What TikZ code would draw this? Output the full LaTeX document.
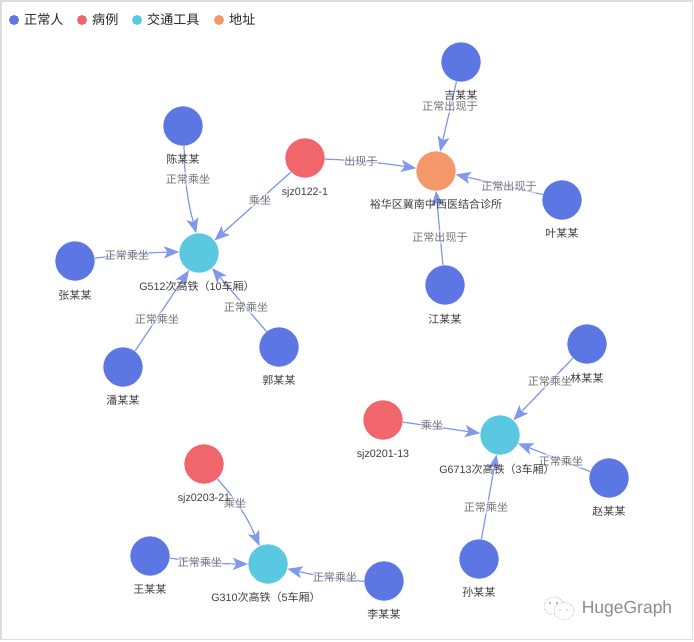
\documentclass[tikz,border=0pt]{standalone}
\usepackage{fontspec}
\setmainfont{Liberation Sans}
\newfontfamily\cjk[Scale=1.03]{Noto Sans CJK SC}
\usetikzlibrary{arrows.meta}
\definecolor{nblue}{HTML}{5C77E4}
\definecolor{nred}{HTML}{F0666B}
\definecolor{nteal}{HTML}{5BC8E2}
\definecolor{norange}{HTML}{F4986C}
\definecolor{edgec}{HTML}{8197F0}
\definecolor{framec}{HTML}{DDDDDD}
\tikzset{
  vert/.style={circle,minimum size=40pt,inner sep=0pt,outer sep=0pt,draw=white,line width=.5pt},
  person/.style={vert,fill=nblue},
  patient/.style={vert,fill=nred},
  vehicle/.style={vert,fill=nteal},
  addr/.style={vert,fill=norange},
  rel/.style={draw=edgec,line width=1.2pt,-{Stealth[length=15pt,width=12pt,inset=3.5pt]}},
  vname/.style={font=\fontsize{10.7}{12}\selectfont,text=black!75,inner sep=0pt,text height=11pt,text depth=2.5pt},
  rellabel/.style={font=\fontsize{10.7}{12}\selectfont\cjk,text=black!55,inner sep=0pt,fill=white,fill opacity=.5,text opacity=1,text height=11pt,text depth=2.5pt},
  legdot/.style={circle,minimum size=10pt,inner sep=0pt,outer sep=0pt},
  legtext/.style={font=\fontsize{12.7}{15}\selectfont\cjk,text=black!85,inner sep=0pt,anchor=west,text height=11pt,text depth=3pt}
}
\begin{document}
\begin{tikzpicture}[x=1pt,y=-1pt]
\useasboundingbox (0,0) rectangle (694,641);
\fill[white] (0,0) rectangle (694,641);
\draw[framec,line width=1.6pt] (1,1) rectangle (692.6,639.5);
% legend
\node[legdot,fill=nblue] (l1) at (14,20) {};
\node[legtext] (lt1) at (24,20) {正常人};
\node[legdot,fill=nred] (l2) at (82,20) {};
\node[legtext] (lt2) at (92,20) {病例};
\node[legdot,fill=nteal] (l3) at (137,20) {};
\node[legtext] (lt3) at (147,20) {交通工具};
\node[legdot,fill=norange] (l4) at (219,20) {};
\node[legtext] (lt4) at (229,20) {地址};
% vertices
\node[person] (chen) at (183,126) {};
\node[patient] (s1) at (305,158) {};
\node[person] (zhang) at (75,261) {};
\node[vehicle] (g512) at (199,253) {};
\node[person] (pan) at (123,367) {};
\node[person] (guo) at (279,347) {};
\node[person] (ji) at (461,62) {};
\node[addr] (clinic) at (436,171) {};
\node[person] (ye) at (562,200) {};
\node[person] (jiang) at (445,285) {};
\node[person] (lin) at (587,344) {};
\node[patient] (s2) at (383,420) {};
\node[vehicle] (g6713) at (500,435) {};
\node[person] (zhao) at (609,478) {};
\node[person] (sun) at (479,559) {};
\node[person] (li) at (384,581) {};
\node[patient] (s3) at (204,464) {};
\node[vehicle] (g310) at (268,564) {};
\node[person] (wang) at (150,556) {};
% connectors
\draw[rel] (chen.273) to[bend right=7] (g512.98);
\draw[rel] (s1.225) to (g512.39);
\draw[rel] (zhang.8) to[bend left=3] (g512.177);
\draw[rel] (pan.53) to (g512.240);
\draw[rel] (guo.129) to (g512.311);
\draw[rel] (s1.357) to[bend left=3] (clinic.172);
\draw[rel] (ji.257) to (clinic.78);
\draw[rel] (ye.164) to (clinic.350);
\draw[rel] (jiang.96) to (clinic.270);
\draw[rel] (lin.225) to (g6713.48);
\draw[rel] (s2.354) to (g6713.175);
\draw[rel] (zhao.161) to (g6713.335);
\draw[rel] (sun.83) to (g6713.260);
\draw[rel] (s3.312) to[bend left=9] (g310.115);
\draw[rel] (wang.354) to[bend right=4] (g310.180);
\draw[rel] (li.181) to[bend left=4] (g310.346);
% edge labels
\node[rellabel] (e1) at (188,179) {正常乘坐};
\node[rellabel] (e2) at (260,200) {乘坐};
\node[rellabel] (e3) at (127,255) {正常乘坐};
\node[rellabel] (e4) at (157,319) {正常乘坐};
\node[rellabel] (e5) at (246,307) {正常乘坐};
\node[rellabel] (e6) at (361,161) {出现于};
\node[rellabel] (e7) at (450,106) {正常出现于};
\node[rellabel] (e8) at (509,186) {正常出现于};
\node[rellabel] (e9) at (440,237) {正常出现于};
\node[rellabel] (e10) at (550,381) {正常乘坐};
\node[rellabel] (e11) at (432,425) {乘坐};
\node[rellabel] (e12) at (561,461) {正常乘坐};
\node[rellabel] (e13) at (486,507) {正常乘坐};
\node[rellabel] (e14) at (235,503) {乘坐};
\node[rellabel] (e15) at (200,562) {正常乘坐};
\node[rellabel] (e16) at (335,577) {正常乘坐};
% vertex names
\node[vname] (n1) at (183,159) {\cjk 陈某某};
\node[vname] (n2) at (305,191) {sjz0122-1};
\node[vname] (n3) at (75,295) {\cjk 张某某};
\node[vname] (n4) at (197,286) {G512{\cjk 次高铁（}10{\cjk 车厢）}};
\node[vname] (n5) at (123,400) {\cjk 潘某某};
\node[vname] (n6) at (279,380) {\cjk 郭某某};
\node[vname] (n7) at (461,95) {\cjk 吉某某};
\node[vname] (n8) at (436,204) {\cjk 裕华区冀南中西医结合诊所};
\node[vname] (n9) at (562,233) {\cjk 叶某某};
\node[vname] (n10) at (445,319) {\cjk 江某某};
\node[vname] (n11) at (587,378) {\cjk 林某某};
\node[vname] (n12) at (383,453) {sjz0201-13};
\node[vname] (n13) at (497,469) {G6713{\cjk 次高铁（}3{\cjk 车厢）}};
\node[vname] (n14) at (609,511) {\cjk 赵某某};
\node[vname] (n15) at (479,592) {\cjk 孙某某};
\node[vname] (n16) at (384,614) {\cjk 李某某};
\node[vname] (n17) at (204,497) {sjz0203-21};
\node[vname] (n18) at (266,597) {G310{\cjk 次高铁（}5{\cjk 车厢）}};
\node[vname] (n19) at (150,589) {\cjk 王某某};
% watermark
\begin{scope}[line width=.5pt]
\draw[black!40,densely dotted,fill=white] (554,606) ellipse (10pt and 9pt);
\draw[black!40,densely dotted,fill=white] (564,611) ellipse (10pt and 8.5pt);
\fill[black!55] (550,603) circle (.8pt) (557,603) circle (.8pt) (560,610) circle (.7pt) (567,610) circle (.7pt);
\end{scope}
\node[font=\fontsize{17.5}{19}\selectfont,text=black!45,inner sep=0pt] (wm) at (627,609) {HugeGraph};
\end{tikzpicture}
\end{document}
